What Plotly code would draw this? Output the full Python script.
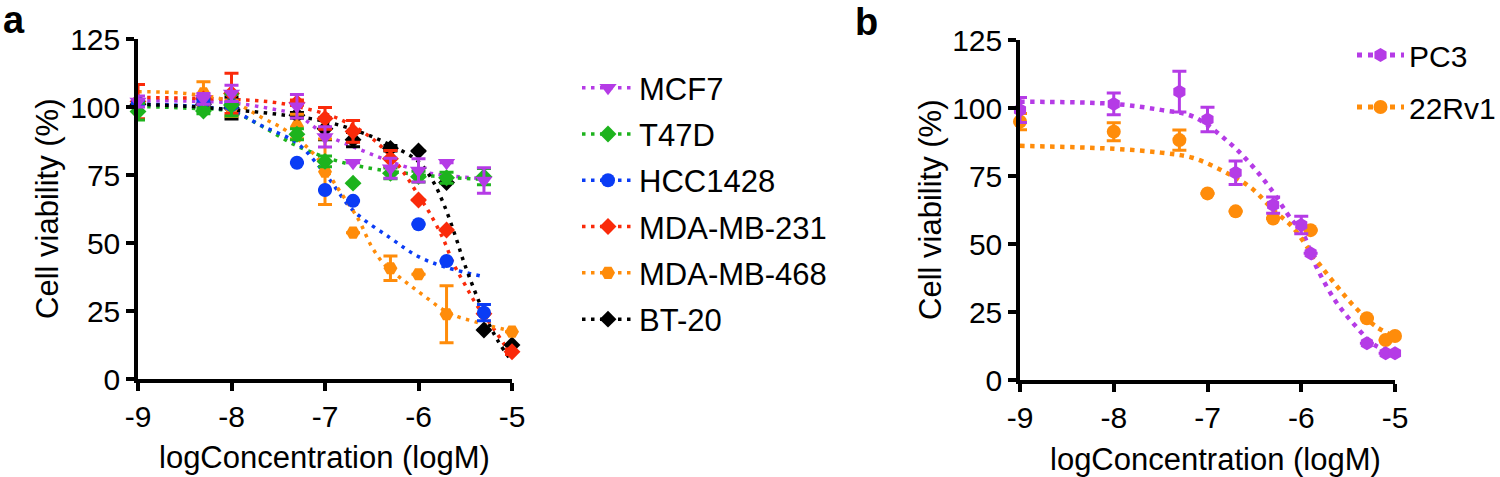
import plotly.graph_objects as go

# ---------------- Panel a data ----------------
conc_a = [-9, -8.3, -8, -7.3, -7, -6.7, -6.3, -6, -5.7, -5.3, -5]
N = None
mcf7 = [102, 103, 105, 100.3, 89, 79.5, 77.5, 76.7, 79.5, 73, N]
mcf7_err = [2, 2, 3, 4.3, 3.7, 0, 3.7, 4.3, 0, 4.7, 0]
t47d = [98.3, 98.5, 100.7, 90, 80, 72, 75.6, 74.4, 74, 74.4, N]
t47d_err = [3.1, 1, 4, 2, 2, 0, 2, 2, 2, 3, 0]
hcc1428 = [101.4, 102, 100.7, 79.5, 69.5, 65.5, N, 56.9, 43.4, 24.4, N]
hcc1428_err = [1, 1, 1, 0, 0, 0, 0, 0, 0, 3, 0]
mdamb231 = [102, 103, 105, 101.6, 95.8, 91, 81, 65.8, 54.8, 24, 10]
mdamb231_err = [6.3, 0, 7.4, 1, 4, 4, 3, 0, 0, 0, 1]
mdamb468 = [N, 105, 99.5, 92.8, 76.2, 53.8, 40.7, 38.5, 23.8, N, 17.4]
mdamb468_err = [0, 4.3, 3, 4.5, 12, 0, 4.5, 0, 10.5, 0, 0]
bt20 = [101, 101, 99.6, 97, 92, 88, 84.8, 83.8, 72.2, 18, 12.5]
bt20_err = [0, 0, 4, 1, 4, 2.6, 1, 0, 0, 0, 0]

# fitted curves
mcf7_fit_x = [-9, -8.5, -8, -7.6, -7.3, -7, -6.6, -6.25, -5.9, -5.6, -5.3]
mcf7_fit_y = [102.3, 102.2, 101.5, 99.5, 97, 90, 84, 79.3, 75.8, 74.5, 73.6]
t47d_fit_x = [-9, -8.5, -8, -7.67, -7.32, -6.95, -6.6, -6.07, -5.7, -5.3]
t47d_fit_y = [100.2, 99.6, 98.3, 92.8, 86, 81, 78, 75.4, 74.2, 73.4]
hcc1428_fit_x = [-9, -8.5, -8, -7.67, -7.3, -7, -6.7, -6.3, -6, -5.7, -5.3]
hcc1428_fit_y = [101, 100.5, 98.5, 93, 86.7, 75.5, 62, 51.8, 45, 41, 37.6]
mdamb231_fit_x = [-9, -8, -7.5, -7, -6.75, -6.5, -6.3, -6.15, -6.0, -5.88, -5.74, -5.62, -5.5, -5.39, -5.21, -5.0]
mdamb231_fit_y = [103.5, 102.8, 101.5, 97.5, 94, 88.5, 82, 75.5, 67.5, 61, 51.8, 42, 34.5, 27.9, 19.2, 8.5]
mdamb468_fit_x = [-9, -8.5, -8, -7.68, -7.4, -7.1, -6.87, -6.64, -6.5, -6.36, -6.21, -6.07, -5.93, -5.76, -5.58, -5.4, -5.2, -5]
mdamb468_fit_y = [105.6, 105, 102, 96.2, 91, 82, 70.5, 58.5, 48.6, 41.9, 37.6, 33.9, 30.3, 26, 22.9, 21.1, 19.2, 17.6]
bt20_fit_x = [-9, -8.5, -8, -7.5, -7, -6.6, -6.3, -6, -5.85, -5.73, -5.6, -5.51, -5.3, -5.15, -5]
bt20_fit_y = [101, 100.3, 99, 97.3, 94.7, 90.5, 86, 79.9, 73, 64.3, 52, 42.5, 24.2, 14, 6.4]

# ---------------- Panel b data ----------------
conc_b = [-9, -8, -7.3, -7, -6.7, -6.3, -6, -5.9, -5.3, -5.1, -5]
pc3 = [99.3, 101.5, 106, 95.8, 76.2, 64.3, 57, 46.6, 13.5, 9.8, 9.8]
pc3_err = [4.6, 4, 7.5, 4.5, 4.3, 3, 3.2, 0, 0, 0, 0]
rv1 = [95, 91.3, 88.2, 68.6, 62, 59.4, N, 55.1, 22.7, 14.7, 16.2]
rv1_err = [3, 3.3, 3.7, 0, 0, 0, 0, 0, 0, 0, 0]

pc3_fit_x = [-9, -8, -7.5, -7.15, -6.78, -6.53, -6.33, -6.1, -6.0, -5.84, -5.63, -5.43, -5.22, -5.05]
pc3_fit_y = [102.3, 101.5, 99.3, 96.8, 87.6, 79, 70.5, 58.8, 55.1, 41.7, 28.8, 20.2, 12.9, 10.5]
rv1_fit_x = [-9, -8, -7.5, -7.16, -6.8, -6.53, -6.28, -6.1, -5.84, -5.63, -5.43, -5.2, -5]
rv1_fit_y = [86.1, 85, 83.6, 81.7, 76.2, 70.5, 61.9, 56.5, 44.1, 34.9, 26.9, 19.6, 15.9]

tick_vals_x = [-9, -8, -7, -6, -5]
tick_text_x = ["-9", "-8", "-7", "-6", "-5"]
tick_vals_y = [0, 25, 50, 75, 100, 125]

# ---------------- styles ----------------
FONT = "Liberation Sans, Arial, Helvetica, sans-serif"
PURPLE = "#B53BE6"
GREEN = "#1DB31D"
BLUE = "#0A3CF5"
RED = "#FA2A0A"
ORANGE = "#FF8C0A"
BLACK = "#000000"

series_a = [
    ("MCF7", mcf7, mcf7_err, mcf7_fit_x, mcf7_fit_y, PURPLE, "triangle-down", 15),
    ("T47D", t47d, t47d_err, t47d_fit_x, t47d_fit_y, GREEN, "diamond", 13),
    ("HCC1428", hcc1428, hcc1428_err, hcc1428_fit_x, hcc1428_fit_y, BLUE, "circle", 14),
    ("MDA-MB-231", mdamb231, mdamb231_err, mdamb231_fit_x, mdamb231_fit_y, RED, "diamond", 13),
    ("MDA-MB-468", mdamb468, mdamb468_err, mdamb468_fit_x, mdamb468_fit_y, ORANGE, "hexagon2", 14),
    ("BT-20", bt20, bt20_err, bt20_fit_x, bt20_fit_y, BLACK, "diamond", 13),
]
series_b = [
    ("PC3", conc_b, pc3, pc3_err, pc3_fit_x, pc3_fit_y, PURPLE, "hexagon", 14),
    ("22Rv1", conc_b, rv1, rv1_err, rv1_fit_x, rv1_fit_y, ORANGE, "circle", 14),
]

DOT_A = "3.5px,5.5px"
DOT_B = "4.5px,5.5px"

fig = go.Figure()

# curves panel a
for name, y, e, fx, fy, col, sym, sz in series_a:
    fig.add_trace(go.Scatter(x=fx, y=fy, mode="lines", line=dict(color=col, width=3.5, dash=DOT_A, shape="spline"),
                             showlegend=False, hoverinfo="skip", xaxis="x", yaxis="y"))
# markers panel a (first series on top)
for name, y, e, fx, fy, col, sym, sz in reversed(series_a):
    fig.add_trace(go.Scatter(x=conc_a, y=y, mode="markers", marker=dict(color=col, symbol=sym, size=sz, line=dict(width=0)),
                             error_y=dict(type="data", array=e, color=col, thickness=3, width=7),
                             cliponaxis=False, showlegend=False, xaxis="x", yaxis="y"))
# legend entries panel a
for i, (name, y, e, fx, fy, col, sym, sz) in enumerate(series_a):
    fig.add_trace(go.Scatter(x=[None], y=[None], mode="lines+markers", name=name,
                             line=dict(color=col, width=3.5, dash=DOT_A),
                             marker=dict(color=col, symbol=sym, size=sz),
                             legend="legend", legendgroup="a%d" % i, xaxis="x", yaxis="y"))

# panel b
for name, xs, y, e, fx, fy, col, sym, sz in series_b:
    fig.add_trace(go.Scatter(x=fx, y=fy, mode="lines", line=dict(color=col, width=4.5, dash=DOT_B, shape="spline"),
                             showlegend=False, hoverinfo="skip", xaxis="x2", yaxis="y2"))
for name, xs, y, e, fx, fy, col, sym, sz in reversed(series_b):
    fig.add_trace(go.Scatter(x=xs, y=y, mode="markers", marker=dict(color=col, symbol=sym, size=sz, line=dict(width=0)),
                             error_y=dict(type="data", array=e, color=col, thickness=3, width=7),
                             cliponaxis=False, showlegend=False, xaxis="x2", yaxis="y2"))
for i, (name, xs, y, e, fx, fy, col, sym, sz) in enumerate(series_b):
    fig.add_trace(go.Scatter(x=[None], y=[None], mode="lines+markers", name=name,
                             line=dict(color=col, width=5, dash="5px,6px"),
                             marker=dict(color=col, symbol=sym, size=sz),
                             legend="legend2", legendgroup="b%d" % i, xaxis="x2", yaxis="y2"))

W, H = 1500, 477
def px(v): return v / W
def py(v): return 1 - v / H

axis_common = dict(showline=True, linecolor="black", linewidth=3.5, ticks="outside", ticklen=8, tickwidth=3.5,
                   tickcolor="black", showgrid=False, zeroline=False, automargin=False,
                   tickfont=dict(family=FONT, size=30, color="black"))

fig.update_layout(
    width=W, height=H, paper_bgcolor="white", plot_bgcolor="white",
    margin=dict(l=0, r=0, t=0, b=0, pad=0, autoexpand=False),
    font=dict(family=FONT, color="black"),
    xaxis=dict(domain=[px(138), px(512)], range=[-9, -5], tickvals=tick_vals_x, ticktext=tick_text_x, anchor="y", **axis_common),
    yaxis=dict(domain=[py(379), py(39)], range=[0, 125], tickvals=tick_vals_y, anchor="x", **axis_common),
    xaxis2=dict(domain=[px(1020), px(1395)], range=[-9, -5], tickvals=tick_vals_x, ticktext=tick_text_x, anchor="y2", **axis_common),
    yaxis2=dict(domain=[py(380), py(40)], range=[0, 125], tickvals=tick_vals_y, anchor="x2", **axis_common),
    legend=dict(x=px(577), y=py(61), xanchor="left", yanchor="top", font=dict(family=FONT, size=31),
                tracegroupgap=3, bgcolor="rgba(0,0,0,0)", itemwidth=52),
    legend2=dict(x=px(1352), y=py(29), xanchor="left", yanchor="top", font=dict(family=FONT, size=30),
                 tracegroupgap=10, bgcolor="rgba(0,0,0,0)", itemwidth=47),
    annotations=[
        dict(text="<b>a</b>", x=px(14), y=py(20), xref="paper", yref="paper", showarrow=False,
             font=dict(family=FONT, size=38), xanchor="center", yanchor="middle"),
        dict(text="<b>b</b>", x=px(866), y=py(22), xref="paper", yref="paper", showarrow=False,
             font=dict(family=FONT, size=38), xanchor="center", yanchor="middle"),
        dict(text="Cell viability (%)", x=px(47), y=py(209), xref="paper", yref="paper", showarrow=False,
             textangle=-90, font=dict(family=FONT, size=31), xanchor="center", yanchor="middle"),
        dict(text="Cell viability (%)", x=px(930), y=py(210), xref="paper", yref="paper", showarrow=False,
             textangle=-90, font=dict(family=FONT, size=31), xanchor="center", yanchor="middle"),
        dict(text="logConcentration (logM)", x=px(324), y=py(457), xref="paper", yref="paper", showarrow=False,
             font=dict(family=FONT, size=31), xanchor="center", yanchor="middle"),
        dict(text="logConcentration (logM)", x=px(1215), y=py(459), xref="paper", yref="paper", showarrow=False,
             font=dict(family=FONT, size=31), xanchor="center", yanchor="middle"),
    ],
)

# remove the browser's default page margin so the figure starts at the window corner
fig.write_html("out.html", config={"displayModeBar": False},
               post_script="document.body.style.margin='0';document.body.style.overflow='hidden';")
